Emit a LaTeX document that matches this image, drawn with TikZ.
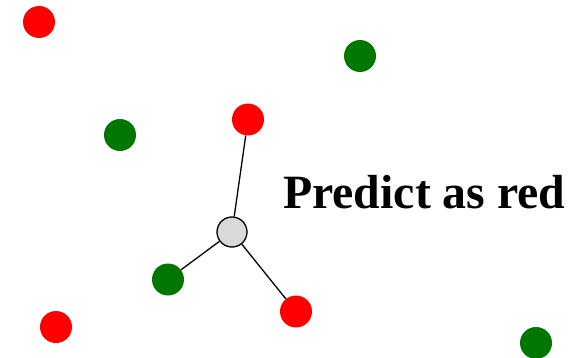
\documentclass[tikz,border=0pt]{standalone}
\usepackage{fontspec}
\setmainfont{Liberation Serif}
\begin{document}
\begin{tikzpicture}[x=1pt,y=1pt,
  dot/.style={circle,inner sep=0pt,minimum size=32pt},
  reddot/.style={dot,fill=red},
  greendot/.style={dot,fill={rgb,255:red,0;green,120;blue,0}},
  query/.style={circle,inner sep=0pt,minimum size=30pt,draw=black,line width=1.3pt,fill={rgb,255:red,217;green,217;blue,217}},
  link/.style={draw=black,line width=1.3pt}]
\useasboundingbox (0,0) rectangle (576,357);
\node[reddot] (r1) at (39,335) {};
\node[greendot] (g1) at (360,301) {};
\node[greendot] (g2) at (120,222) {};
\node[reddot] (r2) at (248,237.5) {};
\node[query] (q) at (232,125) {};
\node[greendot] (g3) at (168,77.5) {};
\node[reddot] (r3) at (296,45.5) {};
\node[reddot] (r4) at (56,30) {};
\node[greendot] (g4) at (536,14) {};
\draw[link] (q) -- (r2);
\draw[link] (q) -- (g3);
\draw[link] (q) -- (r3);
\node[anchor=base west,inner sep=0pt,font=\fontsize{47.8}{50}\selectfont\bfseries] (t) at (283,149) {Predict as red};
\end{tikzpicture}
\end{document}
